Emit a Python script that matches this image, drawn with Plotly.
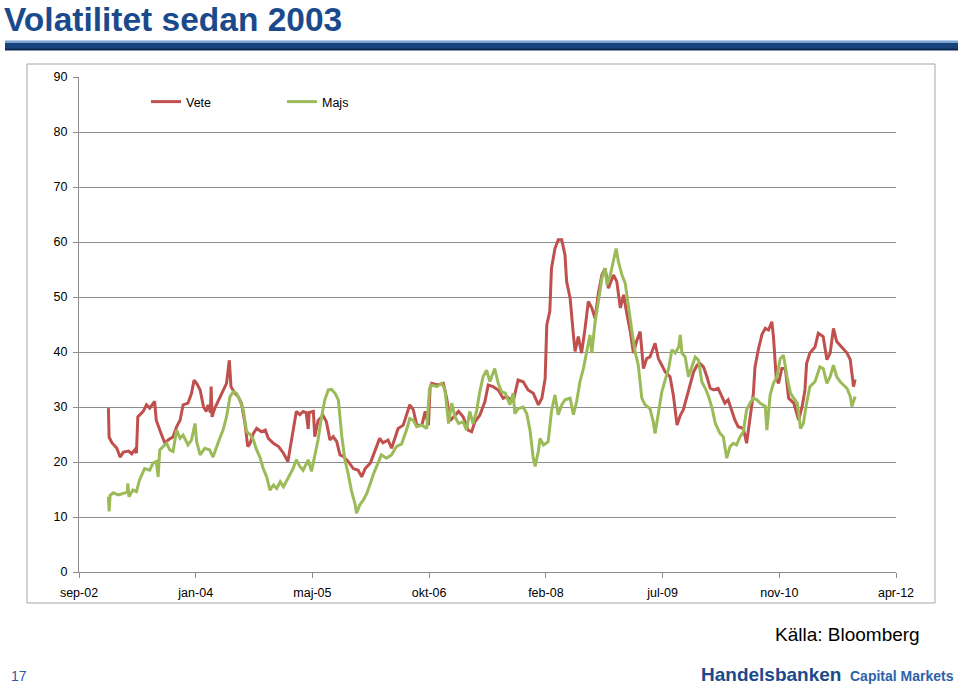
import datetime as dt
import plotly.graph_objects as go

# ---------------- data ----------------
vete_dates = [
"2003-01-05","2003-01-08","2003-01-20","2003-02-10","2003-02-24","2003-03-10","2003-04-01","2003-04-15","2003-04-28","2003-05-05",
"2003-05-11","2003-06-03","2003-06-17","2003-07-01","2003-07-22","2003-07-29","2003-08-13","2003-09-04","2003-09-18","2003-10-09",
"2003-10-24","2003-11-08","2003-11-21","2003-12-12","2003-12-27","2004-01-07","2004-01-18","2004-02-02","2004-02-16","2004-02-28",
"2004-03-07","2004-03-17","2004-03-20","2004-03-24","2004-04-05","2004-04-26","2004-05-10","2004-05-25","2004-06-06","2004-06-13",
"2004-06-30","2004-07-14","2004-07-28","2004-08-12","2004-08-24","2004-09-03","2004-09-17","2004-10-01","2004-10-22","2004-11-07",
"2004-11-20","2004-12-12","2005-01-03","2005-01-24","2005-02-12","2005-02-22","2005-03-06","2005-03-20","2005-04-04","2005-04-18",
"2005-05-01","2005-05-10","2005-05-14","2005-06-01","2005-06-07","2005-06-21","2005-07-12","2005-07-27","2005-08-11","2005-08-25",
"2005-09-09","2005-09-23","2005-10-07","2005-10-28","2005-11-19","2005-12-10","2005-12-25","2006-01-09","2006-01-31","2006-02-21",
"2006-03-12","2006-03-26","2006-04-17","2006-05-02","2006-05-16","2006-05-30","2006-06-21","2006-07-05","2006-07-19","2006-08-03",
"2006-08-18","2006-09-09","2006-09-23","2006-10-07","2006-10-14","2006-10-21","2006-11-15","2006-12-10","2006-12-24","2007-01-08",
"2007-01-22","2007-02-13","2007-03-05","2007-03-26","2007-04-10","2007-04-24","2007-05-15","2007-06-06","2007-06-20","2007-07-11",
"2007-08-02","2007-08-23","2007-09-07","2007-10-05","2007-10-26","2007-11-17","2007-12-08","2007-12-30","2008-01-21","2008-02-05",
"2008-02-19","2008-02-26","2008-03-10","2008-03-17","2008-04-01","2008-04-15","2008-04-30","2008-05-14","2008-05-21","2008-06-05",
"2008-06-19","2008-06-26","2008-07-10","2008-07-24","2008-08-08","2008-08-22","2008-09-06","2008-09-20","2008-10-04","2008-10-19",
"2008-11-02","2008-11-16","2008-12-08","2008-12-22","2009-01-06","2009-01-20","2009-02-04","2009-02-18","2009-03-03","2009-03-17",
"2009-04-01","2009-04-15","2009-04-29","2009-05-13","2009-06-04","2009-06-18","2009-07-03","2009-07-17","2009-08-07","2009-08-21",
"2009-09-06","2009-09-20","2009-10-03","2009-10-25","2009-11-16","2009-12-01","2009-12-14","2009-12-28","2010-01-12","2010-01-26",
"2010-02-10","2010-03-01","2010-03-16","2010-03-30","2010-04-13","2010-04-28","2010-05-12","2010-05-26","2010-06-17","2010-07-01",
"2010-07-15","2010-07-30","2010-08-06","2010-08-20","2010-09-05","2010-09-19","2010-10-03","2010-10-17","2010-10-24","2010-11-05",
"2010-11-15","2010-11-29","2010-12-14","2010-12-28","2011-01-19","2011-02-09","2011-02-24","2011-03-08","2011-03-15","2011-03-29",
"2011-04-20","2011-05-04","2011-05-25","2011-06-10","2011-06-24","2011-07-08","2011-07-22","2011-08-13","2011-09-04","2011-09-18",
"2011-10-02","2011-10-09"]
vete_values = [
29.8,24.5,23.5,22.5,20.9,21.8,22.0,21.5,22.2,21.6,
28.2,29.2,30.4,29.8,31.0,27.6,25.8,23.4,24.0,24.6,
26.4,27.6,30.4,30.7,32.5,34.9,34.3,33.1,30.1,29.2,
30.4,29.0,33.7,28.2,29.8,31.6,33.1,34.3,38.5,33.7,
32.5,31.9,30.7,27.0,22.8,23.4,25.2,26.1,25.5,25.8,
24.3,23.4,22.8,21.6,20.1,22.8,25.2,29.2,28.6,29.2,
29.0,26.0,29.0,29.2,24.6,27.5,28.5,27.3,24.0,24.6,
23.7,21.3,21.0,20.1,18.8,18.5,17.3,18.8,19.8,22.2,
24.3,23.5,24.0,22.5,24.3,26.1,26.7,28.5,30.4,29.5,
26.7,26.7,29.2,26.7,33.5,34.3,34.0,34.3,31.6,27.5,
28.2,29.2,28.2,25.8,25.5,27.3,28.5,31.0,34.0,33.7,
33.1,31.6,31.9,31.0,34.9,34.6,33.1,32.5,30.4,31.6,
35.2,44.9,47.4,55.2,58.8,60.4,60.4,57.6,52.8,49.8,
43.1,40.1,42.8,39.8,44.3,49.2,48.0,46.1,50.7,54.0,
55.2,51.6,54.0,52.8,48.0,50.4,46.7,43.7,39.8,42.0,
43.7,37.0,38.8,39.1,41.6,38.8,37.6,36.4,35.5,32.2,
26.7,28.5,29.5,33.1,36.4,37.6,37.9,37.3,35.5,33.4,
33.1,33.4,32.0,30.7,31.3,29.5,27.6,26.4,26.1,23.4,
27.6,32.5,37.3,40.4,43.2,44.3,44.0,45.5,42.8,35.2,
34.3,37.0,37.0,31.6,30.7,27.6,30.1,33.1,37.9,39.8,
40.9,43.4,42.8,38.6,39.8,44.3,41.9,40.9,39.8,38.6,
33.7,35.0]

majs_dates = [
"2003-01-05","2003-01-08","2003-01-12","2003-01-26","2003-02-17","2003-03-08","2003-03-27","2003-03-29","2003-04-03","2003-04-20",
"2003-05-05","2003-05-18","2003-06-09","2003-07-01","2003-07-15","2003-07-29","2003-08-06","2003-08-13","2003-08-27","2003-09-11",
"2003-09-25","2003-10-09","2003-10-24","2003-11-08","2003-11-21","2003-12-12","2003-12-27","2004-01-11","2004-01-18","2004-02-02",
"2004-02-22","2004-03-14","2004-03-28","2004-04-12","2004-04-26","2004-05-10","2004-05-25","2004-06-09","2004-06-23","2004-07-07",
"2004-07-21","2004-08-05","2004-08-19","2004-09-03","2004-09-17","2004-10-01","2004-10-15","2004-10-29","2004-11-13","2004-11-27",
"2004-12-12","2004-12-26","2005-01-10","2005-01-24","2005-02-08","2005-02-22","2005-03-06","2005-03-20","2005-04-04","2005-04-18",
"2005-05-10","2005-05-24","2005-06-07","2005-06-21","2005-07-06","2005-07-20","2005-08-04","2005-08-18","2005-09-02","2005-09-16",
"2005-09-23","2005-10-01","2005-10-14","2005-10-28","2005-11-12","2005-11-26","2005-12-03","2005-12-17","2006-01-01","2006-01-16",
"2006-01-31","2006-02-14","2006-03-05","2006-03-19","2006-04-10","2006-05-02","2006-05-23","2006-06-14","2006-07-05","2006-07-19",
"2006-08-03","2006-08-18","2006-09-09","2006-09-30","2006-10-11","2006-10-21","2006-11-12","2006-12-03","2006-12-17","2007-01-01",
"2007-01-15","2007-01-29","2007-02-13","2007-03-05","2007-03-19","2007-04-02","2007-04-16","2007-05-01","2007-05-15","2007-05-29",
"2007-06-13","2007-06-27","2007-07-18","2007-08-02","2007-08-16","2007-09-01","2007-09-21","2007-10-05","2007-10-12","2007-10-26",
"2007-11-17","2007-12-02","2007-12-16","2007-12-30","2008-01-07","2008-01-21","2008-01-28","2008-02-12","2008-03-03","2008-03-17",
"2008-04-01","2008-04-15","2008-04-30","2008-05-14","2008-06-05","2008-06-19","2008-07-03","2008-07-17","2008-08-01","2008-08-15",
"2008-08-29","2008-09-06","2008-09-20","2008-10-04","2008-10-19","2008-11-02","2008-11-10","2008-11-24","2008-12-08","2008-12-19",
"2008-12-29","2009-01-13","2009-01-27","2009-02-11","2009-02-25","2009-03-10","2009-03-24","2009-04-08","2009-04-22","2009-05-13",
"2009-05-27","2009-06-04","2009-06-18","2009-07-03","2009-07-17","2009-08-01","2009-08-15","2009-08-29","2009-09-13","2009-09-20",
"2009-09-27","2009-10-11","2009-10-25","2009-11-09","2009-11-23","2009-12-07","2009-12-21","2010-01-05","2010-01-19","2010-02-03",
"2010-02-17","2010-03-09","2010-03-23","2010-04-07","2010-04-21","2010-05-05","2010-05-19","2010-06-03","2010-06-17","2010-07-01",
"2010-07-15","2010-07-30","2010-08-14","2010-08-28","2010-09-19","2010-09-26","2010-10-10","2010-10-24","2010-11-08","2010-11-22",
"2010-12-06","2010-12-21","2011-01-05","2011-01-19","2011-02-03","2011-02-17","2011-03-01","2011-03-15","2011-03-29","2011-04-20",
"2011-05-11","2011-05-25","2011-06-10","2011-06-24","2011-07-08","2011-07-22","2011-08-06","2011-08-20","2011-09-04","2011-09-18",
"2011-09-25","2011-10-09"]
majs_values = [
13.7,11.0,13.9,14.4,14.0,14.3,14.5,16.1,13.7,14.9,
14.6,16.7,18.8,18.5,19.8,20.1,17.3,22.2,22.8,23.4,
22.2,21.9,25.8,24.3,24.9,23.1,24.0,27.0,23.7,21.3,
22.5,22.2,20.9,22.8,24.3,25.8,28.2,31.9,32.8,32.5,
31.2,29.4,25.5,25.0,24.0,22.2,20.9,18.8,17.3,14.9,
15.8,15.2,16.4,15.5,16.7,17.6,18.8,20.4,19.2,18.5,
20.4,18.3,21.3,24.0,28.2,31.3,33.1,33.2,32.5,31.3,
28.2,24.6,20.4,17.9,14.6,12.5,10.7,12.2,13.1,14.3,
16.1,17.9,19.8,21.3,20.7,21.3,22.8,23.3,25.8,27.9,
27.6,26.4,26.7,26.1,33.1,34.0,33.7,34.3,33.1,27.0,
30.7,28.2,27.0,27.3,25.8,29.2,27.0,29.2,32.8,35.5,
36.7,34.6,37.0,34.3,32.8,32.5,30.4,32.5,28.8,29.7,
30.0,28.8,25.8,20.7,19.2,22.0,24.3,23.1,23.7,29.2,
32.2,28.6,30.4,31.3,31.6,28.6,31.0,34.6,37.0,40.1,
43.1,39.8,45.5,49.2,53.4,55.2,52.2,54.0,56.4,58.8,
56.4,54.0,52.5,47.4,43.7,40.1,37.6,31.6,30.4,29.7,
27.3,25.2,29.2,32.8,34.9,37.0,40.4,39.8,40.9,43.1,
39.8,39.1,35.5,37.6,39.1,38.5,34.6,33.4,31.9,29.8,
27.0,25.2,24.6,20.7,22.8,23.4,23.1,24.6,25.5,29.5,
30.7,31.6,31.3,30.7,30.1,25.8,32.2,34.3,35.5,38.8,
39.4,35.5,32.5,31.6,30.7,26.1,27.0,30.7,33.7,34.6,
37.3,37.0,34.3,35.5,37.6,35.5,34.6,34.0,33.4,31.9,
30.1,31.9]

x_tick_labels = ["sep-02", "jan-04", "maj-05", "okt-06", "feb-08", "jul-09", "nov-10", "apr-12"]
y_ticks = [0, 10, 20, 30, 40, 50, 60, 70, 80, 90]
series_names = ["Vete", "Majs"]

# ---------------- axis geometry ----------------
x_start = dt.date(2002, 9, 1)          # Excel serial 37500
tick_step_days = 500
x_end = x_start + dt.timedelta(days=tick_step_days * (len(x_tick_labels) - 1))
tick_vals = [x_start + dt.timedelta(days=tick_step_days * k) for k in range(len(x_tick_labels))]

W, H = 960, 687
L, R, T, B = 79, 896, 77, 572   # plot area in pixels


def px(x):
    return (x - L) / (R - L)


def py(y):
    return (B - y) / (B - T)


RED = "#C0504D"
GREEN = "#9BBB59"
GRID = "#8C8C8C"
BLUE = "#1B4A8C"

fig = go.Figure()
fig.add_trace(go.Scatter(x=vete_dates, y=vete_values, mode="lines", name=series_names[0],
                         line=dict(color=RED, width=3)))
fig.add_trace(go.Scatter(x=majs_dates, y=majs_values, mode="lines", name=series_names[1],
                         line=dict(color=GREEN, width=3)))

tickfont = dict(family="Liberation Sans, Arial, sans-serif", size=12.5, color="#000000")

fig.update_layout(
    width=W, height=H,
    margin=dict(l=L, r=W - R, t=T, b=H - B),
    paper_bgcolor="white", plot_bgcolor="white",
    showlegend=True,
    legend=dict(orientation="h", x=px(146), y=py(102), xanchor="left", yanchor="middle",
                font=dict(family="Liberation Sans, Arial, sans-serif", size=12.5, color="#000000"),
                bgcolor="rgba(0,0,0,0)", entrywidth=91, entrywidthmode="pixels",
                itemclick=False, itemdoubleclick=False),
    xaxis=dict(type="date", range=[x_start, x_end], tickvals=tick_vals, ticktext=x_tick_labels,
               ticks="outside", ticklen=5, tickcolor=GRID, showline=True, linecolor=GRID,
               linewidth=1, showgrid=False, zeroline=False, tickfont=tickfont,
               ticklabelstandoff=4),
    yaxis=dict(range=[0, 90], tickvals=y_ticks, ticks="outside", ticklen=5, tickcolor=GRID,
               showline=True, linecolor=GRID, linewidth=1, showgrid=True, gridcolor=GRID,
               gridwidth=1, zeroline=False, tickfont=tickfont, ticklabelstandoff=3),
)

shapes = [
    # chart frame
    dict(type="rect", xref="paper", yref="paper", x0=px(27), x1=px(935), y0=py(603), y1=py(64),
         line=dict(color="#A6A6A6", width=1), fillcolor="rgba(0,0,0,0)", layer="below"),
    # title bar
    dict(type="rect", xref="paper", yref="paper", x0=px(5), x1=px(958), y0=py(50), y1=py(41),
         line=dict(width=0), fillcolor="#17427C", layer="above"),
    dict(type="rect", xref="paper", yref="paper", x0=px(5), x1=px(958), y0=py(43), y1=py(40.5),
         line=dict(width=0), fillcolor="#7BA4D4", layer="above"),
    dict(type="rect", xref="paper", yref="paper", x0=px(5), x1=px(958), y0=py(50.5), y1=py(48.5),
         line=dict(width=0), fillcolor="#0B2850", layer="above"),
]
fig.update_layout(shapes=shapes)

annotations = [
    dict(text="<b>Volatilitet sedan 2003</b>", x=px(3), y=py(0), xanchor="left", yanchor="top",
         borderpad=0,
         font=dict(family="Liberation Sans, Arial, sans-serif", size=33.5, color=BLUE)),
    dict(text="Källa: Bloomberg", x=px(922), y=py(634), xanchor="right", yanchor="middle",
         font=dict(family="Liberation Sans, Arial, sans-serif", size=19, color="#000000")),
    dict(text="17", x=px(9), y=py(676), xanchor="left", yanchor="middle",
         font=dict(family="Liberation Sans, Arial, sans-serif", size=14, color="#2B5C9E")),
    dict(text="<b>Handelsbanken</b>", x=px(699), y=py(674), xanchor="left", yanchor="middle",
         font=dict(family="Liberation Sans, Arial, sans-serif", size=19, color=BLUE)),
    dict(text="<b>Capital Markets</b>", x=px(848), y=py(676), xanchor="left", yanchor="middle",
         font=dict(family="Liberation Sans, Arial, sans-serif", size=14, color="#2E62A8")),
]
for a in annotations:
    a.update(xref="paper", yref="paper", showarrow=False)
fig.update_layout(annotations=annotations)

fig.write_html("out.html", config={"displayModeBar": False},
               post_script="document.body.style.margin='0';document.body.style.padding='0';"
                           "document.body.style.overflow='hidden';")
